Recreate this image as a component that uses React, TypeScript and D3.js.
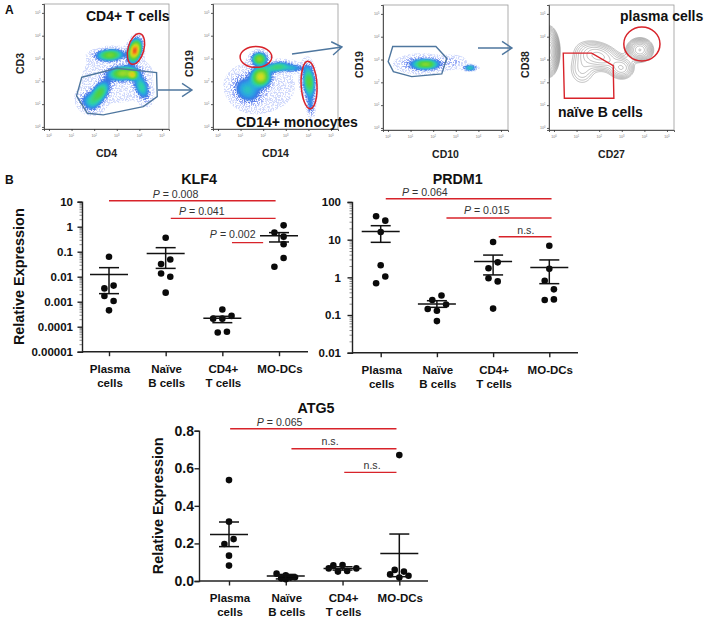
import { useEffect, useRef } from "react";
import * as d3 from "d3";

const FONT = "Arial, 'Liberation Sans', sans-serif";
const RED = "#d8232a";
const BLUE = "#4f779f";
const categories = [["Plasma", "cells"], ["Naïve", "B cells"], ["CD4+", "T cells"], ["MO-DCs"]];
const decades = [0, 1, 2, 3, 4, 5];

// flow clusters: x, y (decades), spreadX, spreadY, angle, peak
const cd3Clusters = [
    [2.7, 3.15, 0.37, 0.14, -3, 0.55],
    [3.8, 3.35, 0.15, 0.29, 15, 1.0],
    [3.27, 2.35, 0.39, 0.17, -5, 0.6],
    [3.7, 2.28, 0.11, 0.1, 0, 0.5],
    [2.25, 1.5, 0.19, 0.35, 35, 0.45],
    [4.1, 1.75, 0.18, 0.37, -20, 0.32],
    [1.8, 1.1, 0.3, 0.25, 35, 0.22],
    [3.0, 2.2, 1.2, 0.9, 0, 0.045],
];
const cd19Clusters = [
    [1.83, 2.98, 0.19, 0.16, 0, 0.6],
    [1.9, 2.2, 0.24, 0.24, 25, 0.72],
    [1.28, 1.62, 0.42, 0.35, 40, 0.24],
    [2.6, 2.63, 0.35, 0.12, -10, 0.36],
    [3.3, 2.58, 0.35, 0.09, 0, 0.24],
    [4.03, 1.97, 0.15, 0.44, -5, 0.5],
    [4.1, 0.9, 0.1, 0.29, -5, 0.16],
    [2.0, 1.8, 1.1, 0.9, 0, 0.045],
];
const cd10Clusters = [
    [1.68, 2.79, 0.32, 0.11, 0, 0.45],
    [1.5, 2.8, 0.62, 0.23, 0, 0.17],
    [3.63, 2.63, 0.18, 0.07, 0, 0.34],
    [2.88, 2.9, 0.36, 0.18, 0, 0.08],
];
const cd38Clusters = [
    [-0.25, 3.35, 0.2, 0.44, 0, 1.4],
    [2.0, 3.15, 0.55, 0.32, 20, 0.26],
    [3, 2.62, 0.3, 0.27, 0, 0.22],
    [3.8, 3.42, 0.28, 0.25, 0, 0.5],
    [1.25, 2.6, 0.38, 0.48, 0, 0.1],
];

// gates in decades
const cd3Gate = [[1.45, 2.18], [3.0, 2.57], [4.76, 2.38], [4.79, 1.33], [4.17, 0.89], [2.4, 0.53], [1.7, 0.6], [1.22, 1.36]];
const cd10Gate = [[0.21, 3.57], [2.12, 3.57], [2.6, 3.06], [2.38, 2.37], [1.05, 2.25], [0.24, 2.47], [0.01, 2.91]];
const cd38Gate = [[0.41, 3.28], [1.67, 3.28], [2.62, 2.73], [2.65, 1.3], [0.46, 1.3]];
// red ovals: x, y, radiusX, radiusY, angle
const cd3Ovals = [[3.85, 3.42, 0.35, 0.7, 15]];
const cd19Ovals = [[1.68, 3.07, 0.7, 0.46, 0], [4.03, 1.84, 0.35, 1.05, -3]];
const cd38Ovals = [[3.89, 3.68, 0.8, 0.75, 0]];

const densityColor = d3
    .scaleLinear<string>()
    .domain([0.02, 0.06, 0.12, 0.2, 0.3, 0.45, 0.72, 0.88, 1])
    .range(["#c4cffb", "#8ea3f5", "#3d66e4", "#28a5e6", "#2fd3a8", "#4fcf3c", "#d6e021", "#f79a1c", "#e8261c"]);

function densityGrid(clusters: number[][], size: number, x: any, y: any) {
    const k = x(1) - x(0);
    const values: number[] = [];
    for (let j = 0; j < size; j++) {
        for (let i = 0; i < size; i++) {
            let v = 0;
            clusters.forEach(([cx, cy, sx, sy, angle, peak]) => {
                const a = (angle * Math.PI) / 180;
                const dx = (i + 0.5 - x(cx)) / k;
                const dy = (j + 0.5 - y(cy)) / k;
                const u = (dx * Math.cos(a) + dy * Math.sin(a)) / sx;
                const w = (-dx * Math.sin(a) + dy * Math.cos(a)) / sy;
                v += peak * Math.exp(-(u * u + w * w) / 2);
            });
            values.push(v);
        }
    }
    return values;
}

interface FlowProps {
    left: number;
    top: number;
    clusters: number[][];
    xLabel: string;
    yLabel: string;
    yLabelX: number;
    gate?: number[][];
    gateColor?: string;
    ovals?: number[][];
    contour?: boolean;
}

function FlowPlot({ left, top, clusters, xLabel, yLabel, yLabelX, gate, gateColor, ovals, contour }: FlowProps) {
    const SIZE = 125;
    const x = d3.scaleLinear().domain([-0.22, 5.31]).range([0, SIZE]);
    const y = d3.scaleLinear().domain([-0.09, 5.39]).range([SIZE, 0]);
    const axisX = useRef<SVGGElement>(null);
    const axisY = useRef<SVGGElement>(null);
    useEffect(() => {
        d3.select(axisX.current!).call(d3.axisBottom(x).tickValues(decades).tickSize(2).tickFormat(() => "") as any);
        d3.select(axisY.current!).call(d3.axisLeft(y).tickValues(decades).tickSize(2).tickFormat(() => "") as any);
        d3.select(axisX.current!).selectAll("path,line").attr("stroke", "#333").attr("stroke-width", 0.8);
        d3.select(axisY.current!).selectAll("path,line").attr("stroke", "#333").attr("stroke-width", 0.8);
    }, []);
    const values = densityGrid(clusters, SIZE, x, y);
    const path = d3.geoPath();
    const thresholds = contour
        ? d3.range(0, 15).map((i) => 0.045 * Math.pow(1.27, i))
        : d3.range(0, 26).map((i) => 0.02 + i * 0.04);
    const layers = d3.contours().size([SIZE, SIZE]).thresholds(thresholds)(values);
    const gateLine = d3.line<number[]>().x((d) => x(d[0])).y((d) => y(d[1])).curve(d3.curveLinearClosed);
    const clipId = "clip" + left;
    return (
        <g transform={`translate(${left},${top})`}>
            <defs>
                <clipPath id={clipId}>
                    <rect width={SIZE} height={SIZE} />
                </clipPath>
            </defs>
            <g clipPath={`url(#${clipId})`}>
                {contour
                    ? layers.map((l, i) => (
                          <path key={i} d={path(l as any) as string} fill="none" stroke="#666" strokeWidth={0.5} opacity={0.8} />
                      ))
                    : layers.map((l, i) => (
                          <path
                              key={i}
                              d={path(l as any) as string}
                              fill={densityColor(l.value)}
                              opacity={i < 3 ? 0.8 : 1}
                              filter={i < 3 ? "url(#speckle)" : "url(#soft)"}
                          />
                      ))}
            </g>
            <rect width={SIZE} height={SIZE} fill="none" stroke="#999" strokeWidth={0.8} />
            <g ref={axisX} transform={`translate(0,${SIZE})`} />
            <g ref={axisY} />
            {decades.map((d) => (
                <g key={d} fontFamily={FONT} fill="#777" fontSize={3.6}>
                    <text x={x(d)} y={SIZE + 8} textAnchor="middle">
                        10<tspan dy={-1.2} fontSize={2.6}>{d}</tspan>
                    </text>
                    <text x={-3.5} y={y(d) + 1.2} textAnchor="end">
                        10<tspan dy={-1.2} fontSize={2.6}>{d}</tspan>
                    </text>
                </g>
            ))}
            {gate && <path d={gateLine(gate) as string} fill="none" stroke={gateColor} strokeWidth={1.4} />}
            {ovals &&
                ovals.map(([cx, cy, rx, ry, a], i) => (
                    <ellipse
                        key={i}
                        transform={`translate(${x(cx)},${y(cy)}) rotate(${a})`}
                        rx={rx * (x(1) - x(0))}
                        ry={ry * (x(1) - x(0))}
                        fill="none"
                        stroke={RED}
                        strokeWidth={1.5}
                    />
                ))}
            <g fontFamily={FONT} fontWeight="bold" fontSize={10.5} fill="#222">
                <text x={SIZE / 2} y={SIZE + 28} textAnchor="middle">{xLabel}</text>
                <text transform={`translate(${yLabelX},${SIZE / 2 - 3}) rotate(-90)`} textAnchor="middle">{yLabel}</text>
            </g>
        </g>
    );
}

// KLF4
const klf4Values = [
    [0.063, 0.0044, 0.0034, 0.0017, 0.00107, 0.00045],
    [0.363, 0.049, 0.032, 0.0135, 0.01, 0.0023],
    [0.00049, 0.00027, 0.00021, 0.00021, 0.000063, 0.000059],
    [1.13, 0.58, 0.4, 0.2, 0.056, 0.025],
];
const klf4Dodge = [[0, 1, -1, -1, 1, 0], [0, 1, -1, -1, 1, 0], [0, 2, -2, 0, 1, -1], [1, -1, 1, 1, 1, -1]];
const klf4Mean = [0.0123, 0.085, 0.00022, 0.43];
const klf4Upper = [0.023, 0.145, 0.00026, 0.58];
const klf4Lower = [0.0021, 0.0215, 0.000145, 0.245];
const klf4Ticks = [10, 1, 0.1, 0.01, 0.001, 0.0001, 0.00001];
// index from, index to, level, label, label index, label lift
const klf4Brackets: [number, number, number, string, number, number][] = [
    [0, 2.94, 10.9, "P = 0.008", 0.77, 3],
    [1.09, 2.94, 2.15, "P = 0.041", 1.235, 3],
    [2.17, 2.72, 0.23, "P = 0.002", 1.78, 5],
];

// PRDM1
const prdm1Values = [
    [41.7, 32, 16, 2.1, 1.05, 0.7],
    [0.33, 0.25, 0.19, 0.145, 0.13, 0.069],
    [8.7, 2.5, 1.74, 0.95, 0.78, 0.148],
    [6.9, 1.68, 0.81, 0.48, 0.25, 0.26],
];
const prdm1Dodge = [[-1, 1, 0, 0, 1, -1], [1, -1, 2, -2, 0, 0], [0, 1, -1, -1, 1, 0], [0, 0, -1, 1, -1, 1]];
const prdm1Mean = [16.6, 0.197, 2.63, 1.82];
const prdm1Upper = [23.5, 0.24, 3.9, 2.9];
const prdm1Lower = [8.5, 0.16, 1.16, 0.68];
const prdm1Ticks = [100, 10, 1, 0.1, 0.01];
const prdm1Brackets: [number, number, number, string, number, number][] = [
    [0.09, 3.04, 122, "P = 0.064", 0.38, 3],
    [1.17, 3.04, 37.5, "P = 0.015", 1.48, 4],
    [2.1, 3.04, 12, "n.s.", 2.43, 3],
];

// ATG5
const atg5Values = [
    [0.537, 0.316, 0.223, 0.197, 0.135, 0.082],
    [0.039, 0.03, 0.014, 0.009, 0.018, 0.02],
    [0.067, 0.083, 0.05, 0.085, 0.053, 0.067],
    [0.67, 0.059, 0.05, 0.035, 0.028, 0.018],
];
const atg5Dodge = [[0, 0, 1, -1, 0, 0], [-2, 0, -1, 0, 1, 2], [-3, -2, -1, 0, 1, 3], [0, -1, 1, -2, 2, 0]];
const atg5Mean = [0.248, 0.027, 0.067, 0.147];
const atg5Upper = [0.314, 0.035, 0.076, 0.25];
const atg5Lower = [0.183, 0.011, 0.058, 0.023];
const atg5Ticks = [0.8, 0.6, 0.4, 0.2, 0];
const atg5Brackets: [number, number, number, string, number, number][] = [
    [0.02, 2.95, 0.81, "P = 0.065", 0.49, 3],
    [1.1, 2.95, 0.704, "n.s.", 1.63, 3.5],
    [2.03, 2.95, 0.578, "n.s.", 2.37, 3.5],
];

interface DotProps {
    left: number;
    top: number;
    axisWidth: number;
    axisHeight: number;
    firstX: number;
    stepX: number;
    yScale: any;
    ticks: number[];
    minor?: number[];
    title: string;
    titleX: number;
    titleY: number;
    values: number[][];
    dodge: number[][];
    mean: number[];
    upper: number[];
    lower: number[];
    brackets: [number, number, number, string, number, number][];
    showYLabel?: boolean;
    yLabelX?: number;
    tickSize?: number;
    tickGap?: number;
}

function DotPlot(p: DotProps) {
    const axisX = useRef<SVGGElement>(null);
    const axisY = useRef<SVGGElement>(null);
    const axisMinor = useRef<SVGGElement>(null);
    const x = d3.scaleLinear().domain([0, 3]).range([p.firstX, p.firstX + 3 * p.stepX]);
    const y = p.yScale;
    useEffect(() => {
        const gx = d3.select(axisX.current!);
        gx.call(d3.axisBottom(x).tickValues([0, 1, 2, 3]).tickSize(4.5).tickFormat(() => "") as any);
        gx.select(".domain").attr("d", `M0,0H${p.axisWidth}`);
        const gy = d3.select(axisY.current!);
        gy.call(
            d3
                .axisLeft(y)
                .tickValues(p.ticks)
                .tickSize(4.5)
                .tickFormat((d: any) => (p.tickSize === 14 ? d3.format(".1f")(d) : String(+d))) as any
        );
        gy.selectAll("path,line").attr("stroke", "#222").attr("stroke-width", 1.4);
        gx.selectAll("path,line").attr("stroke", "#222").attr("stroke-width", 1.4);
        gy.selectAll("text")
            .attr("font-family", FONT)
            .attr("font-weight", "bold")
            .attr("font-size", p.tickSize || 11.5)
            .attr("fill", "#111")
            .attr("x", -(p.tickGap || 9));
        if (p.minor) {
            const gm = d3.select(axisMinor.current!);
            gm.call(d3.axisLeft(y).tickValues(p.minor).tickSize(2.5).tickFormat(() => "") as any);
            gm.selectAll("path").remove();
            gm.selectAll("line").attr("stroke", "#444").attr("stroke-width", 0.6);
        }
    }, []);
    return (
        <g transform={`translate(${p.left},${p.top})`} fontFamily={FONT}>
            <g ref={axisMinor} />
            <g ref={axisY} />
            <g ref={axisX} transform={`translate(0,${p.axisHeight})`} />
            {categories.map((c, i) => (
                <text key={i} x={x(i) + 1} y={p.axisHeight + 21} textAnchor="middle" fontWeight="bold" fontSize={11.5} fill="#111">
                    {c.map((line, j) => (
                        <tspan key={j} x={x(i) + 1} dy={j ? 14.5 : 0}>{line}</tspan>
                    ))}
                </text>
            ))}
            <text x={p.titleX} y={p.titleY} textAnchor="middle" fontWeight="bold" fontSize={14.3} fill="#111">{p.title}</text>
            {p.showYLabel && (
                <text
                    transform={`translate(${p.yLabelX},${p.axisHeight / 2}) rotate(-90)`}
                    textAnchor="middle"
                    fontWeight="bold"
                    fontSize={14.4}
                    fill="#111"
                >
                    Relative Expression
                </text>
            )}
            {p.values.map((vals, i) => (
                <g key={i}>
                    {vals.map((v, j) => (
                        <circle key={j} cx={x(i) + p.dodge[i][j] * 4.6} cy={y(v)} r={3.3} fill="#0a0a0a" />
                    ))}
                    <g stroke="#111" strokeWidth={1.5}>
                        <line x1={x(i) - 19} x2={x(i) + 19} y1={y(p.mean[i])} y2={y(p.mean[i])} />
                        <line x1={x(i) - 10} x2={x(i) + 10} y1={y(p.upper[i])} y2={y(p.upper[i])} />
                        <line x1={x(i) - 10} x2={x(i) + 10} y1={y(p.lower[i])} y2={y(p.lower[i])} />
                        <line x1={x(i)} x2={x(i)} y1={y(p.upper[i])} y2={y(p.lower[i])} />
                    </g>
                </g>
            ))}
            {p.brackets.map(([from, to, level, label, labelAt, lift], i) => (
                <g key={i}>
                    <line x1={x(from)} x2={x(to)} y1={y(level)} y2={y(level)} stroke={RED} strokeWidth={1.4} />
                    <text x={x(labelAt)} y={y(level) - lift} fontSize={10.6} fill="#333">
                        {label.startsWith("P") ? (
                            <>
                                <tspan fontStyle="italic">P</tspan>
                                {label.slice(1)}
                            </>
                        ) : (
                            label
                        )}
                    </text>
                </g>
            ))}
        </g>
    );
}

function minorTicks(from: number, to: number) {
    const out: number[] = [];
    for (let e = from; e < to; e++) {
        d3.range(2, 10).forEach((m) => out.push(m * Math.pow(10, e)));
    }
    return out;
}

function Arrow({ points }: { points: number[][] }) {
    const [a, b] = points;
    const ang = Math.atan2(b[1] - a[1], b[0] - a[0]);
    const head = [ang + 2.55, ang - 2.55].map((t) => [b[0] + 12 * Math.cos(t), b[1] + 12 * Math.sin(t)]);
    return (
        <path
            d={`M${a}L${b}M${head[0]}L${b}L${head[1]}`}
            fill="none"
            stroke={BLUE}
            strokeWidth={1.4}
        />
    );
}

export default function App() {
    const klf4Y = d3.scaleLog().domain([0.00001, 10]).range([150, 0]);
    const prdm1Y = d3.scaleLog().domain([0.01, 100]).range([150.7, 0]);
    const atg5Y = d3.scaleLinear().domain([0, 0.8]).range([150.3, 0]);
    return (
        <svg width={711} height={628} style={{ position: "absolute", left: 0, top: 0, background: "#fff" }}>
            <defs>
                <filter id="speckle" x="-10%" y="-10%" width="120%" height="120%">
                    <feTurbulence type="fractalNoise" baseFrequency={0.7} numOctaves={2} seed={4} />
                    <feColorMatrix values="0 0 0 0 0 0 0 0 0 0 0 0 0 0 0 0 0 0 8 -3.6" />
                    <feComposite in="SourceGraphic" operator="in" />
                    <feGaussianBlur stdDeviation={0.35} />
                </filter>
                <filter id="soft">
                    <feGaussianBlur stdDeviation={1} />
                </filter>
            </defs>
            <FlowPlot left={44} top={4} clusters={cd3Clusters} xLabel="CD4" yLabel="CD3" yLabelX={-20} gate={cd3Gate} gateColor={BLUE} ovals={cd3Ovals} />
            <FlowPlot left={213} top={4} clusters={cd19Clusters} xLabel="CD14" yLabel="CD19" yLabelX={-20} ovals={cd19Ovals} />
            <FlowPlot left={383} top={5} clusters={cd10Clusters} xLabel="CD10" yLabel="CD19" yLabelX={-20} gate={cd10Gate} gateColor={BLUE} />
            <FlowPlot left={549} top={5} clusters={cd38Clusters} xLabel="CD27" yLabel="CD38" yLabelX={-20} gate={cd38Gate} gateColor={RED} ovals={cd38Ovals} contour />
            <Arrow points={[[158, 90], [192, 90]]} />
            <Arrow points={[[292, 54], [342, 47]]} />
            <Arrow points={[[478, 48], [512, 48]]} />
            <g fontFamily={FONT} fontWeight="bold" fill="#111" fontSize={14}>
                <text x={86} y={21}>CD4+ T cells</text>
                <text x={236} y={127}>CD14+ monocytes</text>
                <text x={620} y={21}>plasma cells</text>
                <text x={558} y={117}>naïve B cells</text>
                <text x={5} y={14} fontSize={12}>A</text>
                <text x={5} y={184} fontSize={12}>B</text>
            </g>
            <DotPlot
                left={82}
                top={201.7}
                axisWidth={226}
                axisHeight={150}
                firstX={27}
                stepX={56.67}
                yScale={klf4Y}
                ticks={klf4Ticks}
                minor={minorTicks(-5, 1)}
                title="KLF4"
                titleX={117}
                titleY={-17.7}
                values={klf4Values}
                dodge={klf4Dodge}
                mean={klf4Mean}
                upper={klf4Upper}
                lower={klf4Lower}
                brackets={klf4Brackets}
                showYLabel
                yLabelX={-58}
            />
            <DotPlot
                left={352}
                top={202}
                axisWidth={226}
                axisHeight={150.7}
                firstX={28.7}
                stepX={56.2}
                yScale={prdm1Y}
                ticks={prdm1Ticks}
                minor={minorTicks(-2, 2)}
                title="PRDM1"
                titleX={105.7}
                titleY={-18.5}
                values={prdm1Values}
                dodge={prdm1Dodge}
                mean={prdm1Mean}
                upper={prdm1Upper}
                lower={prdm1Lower}
                brackets={prdm1Brackets}
                tickGap={11}
            />
            <DotPlot
                left={199}
                top={430.7}
                axisWidth={229}
                axisHeight={150.3}
                firstX={30}
                stepX={56.77}
                yScale={atg5Y}
                ticks={atg5Ticks}
                title="ATG5"
                titleX={117}
                titleY={-17.7}
                values={atg5Values}
                dodge={atg5Dodge}
                mean={atg5Mean}
                upper={atg5Upper}
                lower={atg5Lower}
                brackets={atg5Brackets}
                showYLabel
                yLabelX={-36.5}
                tickSize={14}
                tickGap={5}
            />
        </svg>
    );
}
